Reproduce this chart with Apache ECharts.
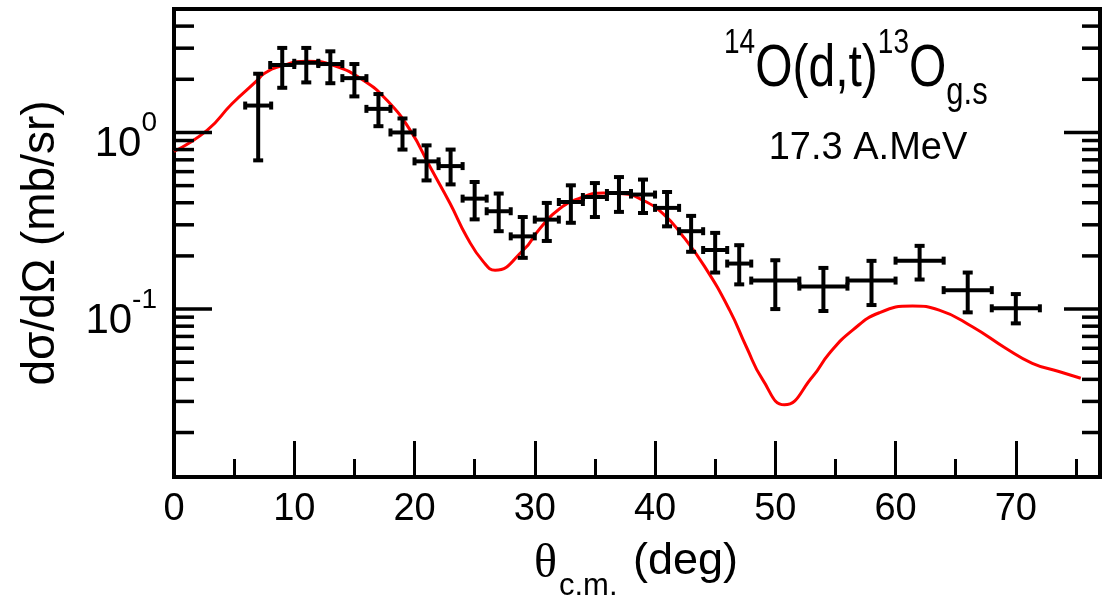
<!DOCTYPE html>
<html>
<head>
<meta charset="utf-8">
<script src="https://cdn.jsdelivr.net/npm/echarts@6/dist/echarts.min.js"></script>
<style>
html,body{margin:0;padding:0;background:#fff;}
#chart{width:1105px;height:601px;}
</style>
</head>
<body>
<div id="chart"></div>
<script>
// ---- Data ----
const theta      = [7, 9, 11, 13, 15, 17, 19, 21, 23, 25, 27, 29, 31, 33, 35, 37, 39, 41, 43, 45, 47, 50, 54, 58, 62, 66, 70];
const thetaErr   = [1.08, 1, 1, 1, 1, 1, 1, 1, 1, 1, 1, 1, 1, 1, 1, 1, 1, 1, 1, 1, 1, 2, 2, 2, 2, 2, 2];
const sigma      = [1.42, 2.41, 2.48, 2.44, 2.03, 1.36, 1.0, 0.686, 0.645, 0.422, 0.358, 0.258, 0.321, 0.404, 0.431, 0.454, 0.445, 0.374, 0.276, 0.216, 0.181, 0.145, 0.134, 0.145, 0.188, 0.128, 0.101];
const sigmaLow   = [0.695, 1.79, 1.92, 1.90, 1.60, 1.085, 0.80, 0.535, 0.508, 0.322, 0.276, 0.195, 0.243, 0.308, 0.332, 0.355, 0.350, 0.294, 0.211, 0.161, 0.138, 0.100, 0.0975, 0.1054, 0.147, 0.0958, 0.083];
const sigmaHigh  = [2.15, 3.01, 3.01, 2.88, 2.44, 1.65, 1.20, 0.845, 0.80, 0.524, 0.451, 0.332, 0.399, 0.502, 0.517, 0.559, 0.541, 0.46, 0.337, 0.27, 0.23, 0.189, 0.171, 0.1875, 0.228, 0.161, 0.1216];

const curveTheta = [0, 2.77, 4.8, 6.92, 7.47, 9.0, 11.1, 13.3, 15.77, 17.71, 19.64, 21.3, 22.96, 24.35, 25.73, 26.7, 29.05, 30.43, 32.09, 34.02, 35.68, 37.34, 39.0, 40.66, 42.2, 44.1, 46.2, 47.59, 48.96, 50.76, 53.11, 54.5, 56.43, 58.65, 61.41, 63.63, 66.39, 69.16, 71.37, 73.58, 75.4];
const curveSigma = [0.78, 1.03, 1.45, 1.97, 2.15, 2.39, 2.53, 2.39, 1.97, 1.52, 1.03, 0.637, 0.396, 0.256, 0.185, 0.166, 0.216, 0.286, 0.371, 0.431, 0.454, 0.45, 0.413, 0.347, 0.265, 0.175, 0.0987, 0.0612, 0.0397, 0.0287, 0.0415, 0.0562, 0.076, 0.0953, 0.104, 0.0987, 0.0794, 0.06, 0.0493, 0.0443, 0.0406];

const xMajorTicks = [0, 10, 20, 30, 40, 50, 60, 70];
const xMinorTicks = [5, 15, 25, 35, 45, 55, 65, 75];
const yMajorTicks = [0.1, 1];
const yMinorTicks = [0.02, 0.03, 0.04, 0.05, 0.06, 0.07, 0.08, 0.09, 0.2, 0.3, 0.4, 0.5, 0.6, 0.7, 0.8, 0.9, 2, 3, 4];

const X_MIN = 0, X_MAX = 77, Y_MIN = 0.0112, Y_MAX = 5;

// ---- Build ----
const FONT = "'Liberation Sans', Arial, Helvetica, sans-serif";
const SERIF = "'Liberation Serif', 'DejaVu Serif', serif";
const errData = theta.map((t, i) => [t, sigma[i], t - thetaErr[i], t + thetaErr[i], sigmaLow[i], sigmaHigh[i]]);
const curveData = curveTheta.map((t, i) => [t, curveSigma[i]]);

function xAxisDef(ticks, len, withLabels) {
  return {
    type: 'value', min: X_MIN, max: X_MAX, position: 'bottom',
    axisLine: {show: false},
    splitLine: {show: false},
    axisTick: {show: true, inside: true, length: len, interval: 0, customValues: ticks, lineStyle: {color: '#000', width: 3}},
    axisLabel: withLabels ? {show: true, interval: 0, customValues: ticks, margin: 14, color: '#000', fontSize: 38, fontFamily: FONT} : {show: false},
  };
}

const yAxis0 = {
  type: 'log', logBase: 10, min: Y_MIN, max: Y_MAX, position: 'left',
  axisLine: {show: false},
  splitLine: {show: false},
  axisTick: {show: false},
  axisLabel: {
    show: true, interval: 0, customValues: yMajorTicks, margin: 17, color: '#000', fontFamily: FONT,
    padding: [10, 0, 0, 0],
    formatter: function (v) {
      const e = Math.round(Math.log10(v));
      return '{b|10}{s|' + e + '}';
    },
    rich: {
      b: {fontSize: 42, lineHeight: 42, verticalAlign: 'bottom', fontFamily: FONT, color: '#000'},
      s: {fontSize: 28, lineHeight: 56, verticalAlign: 'top', fontFamily: FONT, color: '#000'}
    }
  },
  name: 'dσ/dΩ (mb/sr)',
  nameLocation: 'middle',
  nameRotate: 90,
  nameGap: 110,
  nameTextStyle: {fontFamily: FONT, fontSize: 46, color: '#000'}
};

const textGraphics = [
  {
    type: 'text', x: 724, y: 26, scaleX: 1, scaleY: 1.25, z: 100,
    style: {
      text: '{p|14}{m|O(d,t)}{p|13}{m|O}{q|g.s}',
      fill: '#000',
      font: '48px ' + FONT,
      rich: {
        p: {fontSize: 28, lineHeight: 28, verticalAlign: 'top', fontFamily: FONT, fill: '#000'},
        m: {fontSize: 48, lineHeight: 69, verticalAlign: 'middle', fontFamily: FONT, fill: '#000'},
        q: {fontSize: 31, lineHeight: 37, verticalAlign: 'bottom', fontFamily: FONT, fill: '#000'}
      }
    }
  },
  {type: 'text', x: 868, y: 149, z: 100,
   style: {text: '17.3 A.MeV', fill: '#000', font: '38px ' + FONT, textAlign: 'center', textVerticalAlign: 'middle'}},
  // x-axis title: θ with subscript c.m., then (deg)
  {type: 'text', x: 534, y: 564, z: 100,
   style: {text: 'θ', fill: '#000', font: '48px ' + SERIF, textAlign: 'left', textVerticalAlign: 'middle'}},
  {type: 'text', x: 559, y: 586, z: 100,
   style: {text: 'c.m.', fill: '#000', font: '31px ' + FONT, textAlign: 'left', textVerticalAlign: 'middle'}},
  {type: 'text', x: 633, y: 562, z: 100,
   style: {text: '(deg)', fill: '#000', font: '45px ' + FONT, textAlign: 'left', textVerticalAlign: 'middle'}}
];

const chart = echarts.init(document.getElementById('chart'), null, {renderer: 'canvas'});
chart.setOption({
  animation: false,
  backgroundColor: '#fff',
  grid: {left: 174, right: 5, top: 9, bottom: 124, show: true, borderColor: '#000', borderWidth: 4,
         backgroundColor: 'transparent', containLabel: false, outerBoundsMode: 'none'},
  xAxis: [xAxisDef(xMajorTicks, 36, true), xAxisDef(xMinorTicks, 18, false)],
  yAxis: [yAxis0],
  series: [
    {
      type: 'line', name: 'calc', xAxisIndex: 0, yAxisIndex: 0,
      data: curveData, showSymbol: false, symbol: 'none', smooth: 0.5,
      lineStyle: {color: '#ff0000', width: 3}, z: 3, clip: true
    },
    {
      type: 'custom', name: 'data', xAxisIndex: 0, yAxisIndex: 0,
      data: errData, encode: {x: 0, y: 1}, z: 4, clip: true,
      renderItem: function (params, api) {
        const c = api.coord([api.value(0), api.value(1)]);
        const xl = api.coord([api.value(2), api.value(1)]);
        const xh = api.coord([api.value(3), api.value(1)]);
        const yl = api.coord([api.value(0), api.value(4)]);
        const yh = api.coord([api.value(0), api.value(5)]);
        const st = {stroke: '#000', lineWidth: 4};
        const capH = 5, capV = 4;
        return {
          type: 'group',
          children: [
            {type: 'line', shape: {x1: xl[0], y1: c[1], x2: xh[0], y2: c[1]}, style: st},
            {type: 'line', shape: {x1: c[0], y1: yl[1], x2: c[0], y2: yh[1]}, style: st},
            {type: 'line', shape: {x1: c[0] - capH, y1: yl[1], x2: c[0] + capH, y2: yl[1]}, style: st},
            {type: 'line', shape: {x1: c[0] - capH, y1: yh[1], x2: c[0] + capH, y2: yh[1]}, style: st},
            {type: 'line', shape: {x1: xl[0], y1: c[1] - capV, x2: xl[0], y2: c[1] + capV}, style: st},
            {type: 'line', shape: {x1: xh[0], y1: c[1] - capV, x2: xh[0], y2: c[1] + capV}, style: st}
          ]
        };
      }
    }
  ]
});

// y-axis tick marks on the left and right frame, positioned through the chart's log scale
const tickGraphics = [];
const tickStyle = {stroke: '#000', lineWidth: 3.5};
yMajorTicks.map(v => [v, 38, 36]).concat(yMinorTicks.map(v => [v, 20, 18])).forEach(function (t) {
  const pl = chart.convertToPixel({xAxisIndex: 0, yAxisIndex: 0}, [X_MIN, t[0]]);
  const pr = chart.convertToPixel({xAxisIndex: 0, yAxisIndex: 0}, [X_MAX, t[0]]);
  tickGraphics.push({type: 'line', z: 50, silent: true, shape: {x1: pl[0], y1: pl[1], x2: pl[0] + t[1], y2: pl[1]}, style: tickStyle});
  tickGraphics.push({type: 'line', z: 50, silent: true, shape: {x1: pr[0], y1: pr[1], x2: pr[0] - t[2], y2: pr[1]}, style: tickStyle});
});
chart.setOption({graphic: textGraphics.concat(tickGraphics)});
</script>
</body>
</html>
